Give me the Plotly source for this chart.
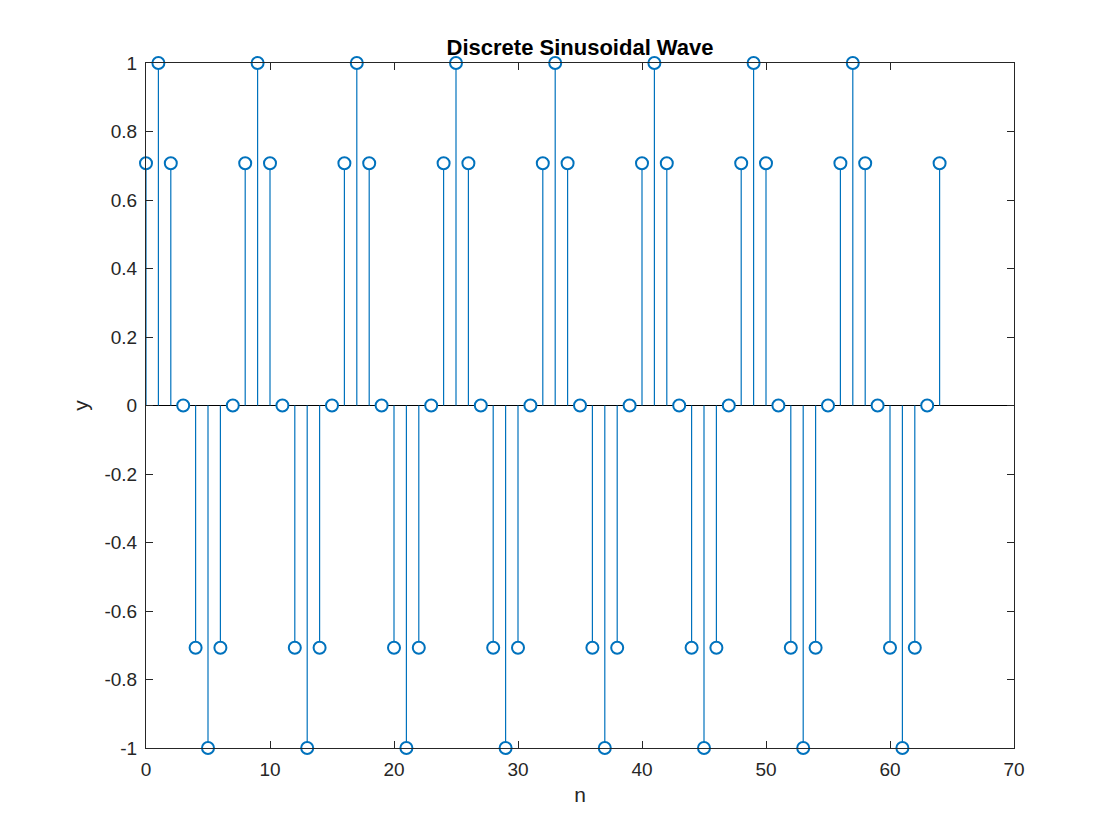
import plotly.graph_objects as go

n = list(range(65))
y = [
    0.7071, 1.0, 0.7071, 0.0, -0.7071, -1.0, -0.7071, 0.0,
    0.7071, 1.0, 0.7071, 0.0, -0.7071, -1.0, -0.7071, 0.0,
    0.7071, 1.0, 0.7071, 0.0, -0.7071, -1.0, -0.7071, 0.0,
    0.7071, 1.0, 0.7071, 0.0, -0.7071, -1.0, -0.7071, 0.0,
    0.7071, 1.0, 0.7071, 0.0, -0.7071, -1.0, -0.7071, 0.0,
    0.7071, 1.0, 0.7071, 0.0, -0.7071, -1.0, -0.7071, 0.0,
    0.7071, 1.0, 0.7071, 0.0, -0.7071, -1.0, -0.7071, 0.0,
    0.7071, 1.0, 0.7071, 0.0, -0.7071, -1.0, -0.7071, 0.0,
    0.7071,
]
title = "Discrete Sinusoidal Wave"
xlabel = "n"
ylabel = "y"
xticks = [0, 10, 20, 30, 40, 50, 60, 70]
yticks = [-1, -0.8, -0.6, -0.4, -0.2, 0, 0.2, 0.4, 0.6, 0.8, 1]

color = "#0072BD"
font = "Liberation Sans, Arial, Helvetica, sans-serif"
ink = "#262626"

sx, sy = [], []
for xi, yi in zip(n, y):
    sx += [xi, xi, None]
    sy += [0, yi, None]

fig = go.Figure()
fig.add_trace(go.Scatter(x=sx, y=sy, mode="lines",
                         line=dict(color=color, width=1.2), hoverinfo="skip",
                         showlegend=False, cliponaxis=False))
fig.add_trace(go.Scatter(x=n, y=y, mode="markers",
                         marker=dict(symbol="circle", size=12, color="white",
                                     line=dict(width=2, color=color)),
                         showlegend=False, cliponaxis=False))

axis_common = dict(showgrid=False, showline=True, linecolor=ink, linewidth=1,
                   mirror="ticks", ticks="inside", ticklen=7, tickcolor=ink,
                   ticklabelstandoff=4,
                   tickfont=dict(family=font, size=19, color=ink))

fig.update_xaxes(range=[0, 70], tickvals=xticks, zeroline=False,
                 title=dict(text=xlabel, font=dict(family=font, size=21, color=ink),
                            standoff=8),
                 **axis_common)
fig.update_yaxes(range=[-1, 1], tickvals=yticks, ticktext=[str(v) for v in yticks],
                 zeroline=True, zerolinecolor="black", zerolinewidth=1,
                 title=dict(text=ylabel, font=dict(family=font, size=21, color=ink),
                            standoff=10),
                 **axis_common)

fig.update_layout(
    width=1120, height=840,
    margin=dict(l=146, r=106, t=63, b=92),
    paper_bgcolor="white", plot_bgcolor="white",
    title=dict(text="<b>" + title + "</b>", x=0.5179, xanchor="center",
               y=1 - 47 / 840, yanchor="middle",
               font=dict(family=font, size=22, color="black")),
)

fig.write_html("out.html")
